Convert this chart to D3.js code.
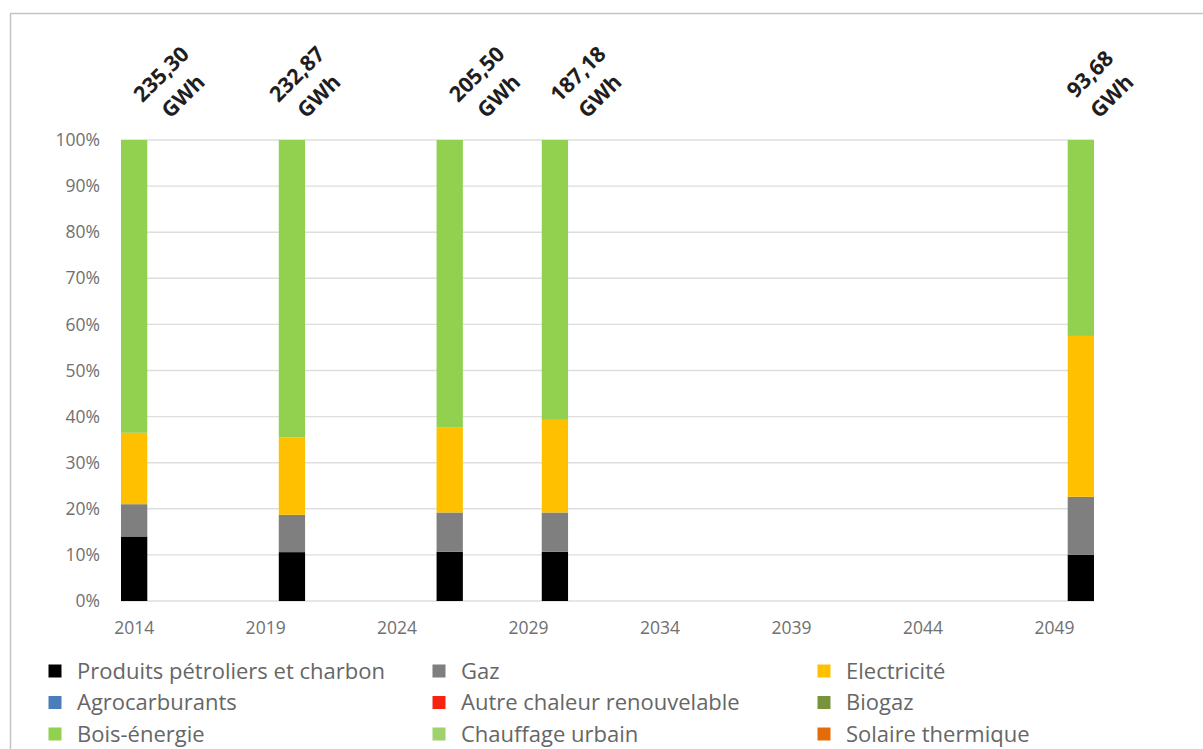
<!DOCTYPE html>
<html lang="fr">
<head>
<meta charset="utf-8">
<script src="https://cdn.jsdelivr.net/npm/d3@7"></script>
<style>
  html, body { margin: 0; padding: 0; background: #ffffff; }
  svg { display: block; font-family: "Open Sans", "Noto Sans", sans-serif; }
</style>
</head>
<body>
<svg id="chart" width="1203" height="749"></svg>
<script>
// Years of the scenario (bars) and total consumption per year
const years = [2014, 2020, 2026, 2030, 2050];
const totalsGWh = [235.30, 232.87, 205.50, 187.18, 93.68];

// Share of each energy source (%) per year, bottom to top
const petrole      = [14.0, 10.6, 10.7, 10.7, 10.0];
const gaz          = [7.0, 8.1, 8.5, 8.5, 12.6];
const electricite  = [15.5, 16.8, 18.4, 20.1, 34.9];
const agrocarb     = [0, 0, 0, 0, 0];
const autreChaleur = [0, 0, 0, 0, 0];
const biogaz       = [0, 0, 0, 0, 0];
const boisEnergie  = [63.5, 64.5, 62.4, 60.7, 42.5];
const chauffage    = [0, 0, 0, 0, 0];
const solaire      = [0, 0, 0, 0, 0];

const seriesNames = [
  "Produits pétroliers et charbon", "Gaz", "Electricité",
  "Agrocarburants", "Autre chaleur renouvelable", "Biogaz",
  "Bois-énergie", "Chauffage urbain", "Solaire thermique"
];
const seriesValues = [petrole, gaz, electricite, agrocarb, autreChaleur, biogaz, boisEnergie, chauffage, solaire];

// Axis ticks
const xTickYears = [2014, 2019, 2024, 2029, 2034, 2039, 2044, 2049];
const yTickShares = [0, 0.1, 0.2, 0.3, 0.4, 0.5, 0.6, 0.7, 0.8, 0.9, 1.0];

// ---- styling / layout ----
const colors = ["#000000", "#7f7f7f", "#ffc000", "#4a7ebb", "#f5230f", "#77933c", "#92d050", "#9fd26c", "#e36c09"];
const plot = { left: 121, right: 1094, top: 140, bottom: 601 };
const labelNudge = [27, 5, 27, 23, 9]; // horizontal shift of each total label

const svg = d3.select("#chart");

// chart frame
svg.append("rect")
  .attr("x", 10.5).attr("y", 13.5)
  .attr("width", 1300).attr("height", 800)
  .attr("fill", "none").attr("stroke", "#c4c4c4").attr("stroke-width", 1.5);

// scales: one band per calendar year (date axis)
const x = d3.scaleBand()
  .domain(d3.range(2014, 2051))
  .range([plot.left, plot.right])
  .padding(0);
const y = d3.scaleLinear().domain([0, 1]).range([plot.bottom, plot.top]);

// gridlines
svg.append("g")
  .selectAll("line")
  .data(yTickShares)
  .join("line")
  .attr("x1", plot.left).attr("x2", plot.right)
  .attr("y1", d => y(d)).attr("y2", d => y(d))
  .attr("stroke", "#dedede").attr("stroke-width", 1.4);

// stacked 100% data
const rows = years.map((yr, i) => {
  const r = { year: yr };
  seriesNames.forEach((n, k) => { r[n] = seriesValues[k][i]; });
  return r;
});
const stack = d3.stack().keys(seriesNames).offset(d3.stackOffsetExpand);
const layers = stack(rows);

svg.append("g")
  .selectAll("g")
  .data(layers)
  .join("g")
  .attr("fill", (d, i) => colors[i])
  .selectAll("rect")
  .data(d => d)
  .join("rect")
  .attr("x", d => x(d.data.year))
  .attr("width", x.bandwidth())
  .attr("y", d => y(d[1]))
  .attr("height", d => Math.max(0, y(d[0]) - y(d[1])));

// y axis
const yAxis = svg.append("g")
  .attr("transform", `translate(${plot.left},0)`)
  .call(d3.axisLeft(y).tickValues(yTickShares).tickFormat(d3.format(".0%")).tickSize(0).tickPadding(21));
yAxis.select(".domain").remove();
yAxis.selectAll("text")
  .attr("fill", "#707070")
  .style("font-size", "17.5px")
  .style("font-family", "'Open Sans', sans-serif");

// x axis
const xAxis = svg.append("g")
  .attr("transform", `translate(0,${plot.bottom})`)
  .call(d3.axisBottom(x).tickValues(xTickYears).tickSize(0).tickPadding(21));
xAxis.select(".domain").remove();
xAxis.selectAll("text")
  .attr("fill", "#707070")
  .style("font-size", "17.5px")
  .style("font-family", "'Open Sans', sans-serif");

// total labels above bars, rotated
const fmt = v => d3.format(".2f")(v).replace(".", ",");
const labels = svg.append("g")
  .selectAll("g")
  .data(years.map((yr, i) => ({ year: yr, total: totalsGWh[i], nudge: labelNudge[i] })))
  .join("g")
  .attr("transform", d => `translate(${x(d.year) + x.bandwidth() / 2 + d.nudge + 11},85) rotate(-45)`);
labels.append("text")
  .attr("text-anchor", "middle")
  .attr("y", -15.5)
  .attr("dy", "0.35em")
  .attr("fill", "#1e1e1e")
  .style("font-weight", "700")
  .style("font-size", "21.5px")
  .text(d => fmt(d.total));
labels.append("text")
  .attr("text-anchor", "middle")
  .attr("y", 15.5)
  .attr("dy", "0.35em")
  .attr("fill", "#1e1e1e")
  .style("font-weight", "700")
  .style("font-size", "21.5px")
  .text("GWh");

// legend: 3 columns x 3 rows
const colX = [55, 439, 824];
const rowY = [671, 702.5, 734];
const legend = svg.append("g")
  .selectAll("g")
  .data(seriesNames)
  .join("g")
  .attr("transform", (d, i) => `translate(${colX[i % 3]},${rowY[Math.floor(i / 3)]})`);
legend.append("rect")
  .attr("x", -6.5).attr("y", -6.5)
  .attr("width", 13).attr("height", 13)
  .attr("fill", (d, i) => colors[i]);
legend.append("text")
  .attr("x", 22)
  .attr("dy", "0.36em")
  .attr("fill", "#666666")
  .style("font-size", "22px")
  .text(d => d);
</script>
</body>
</html>
